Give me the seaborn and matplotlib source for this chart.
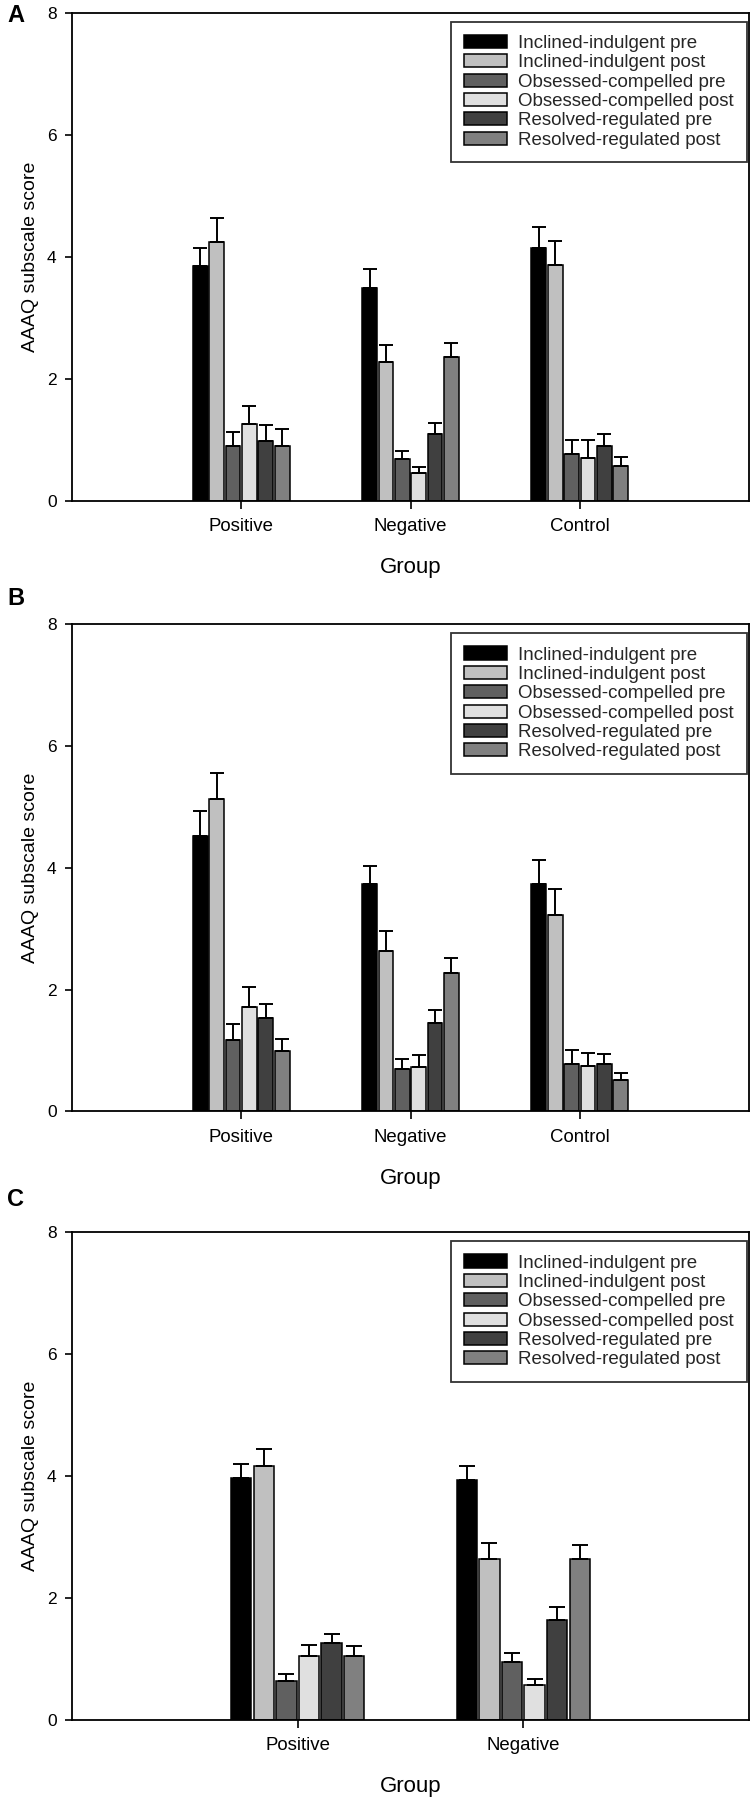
import numpy as np
import pandas as pd
import matplotlib
matplotlib.use("Agg")
import matplotlib.pyplot as plt
import seaborn as sns
from matplotlib.patches import Patch
from matplotlib.container import BarContainer

series = ["Inclined-indulgent pre", "Inclined-indulgent post",
          "Obsessed-compelled pre", "Obsessed-compelled post",
          "Resolved-regulated pre", "Resolved-regulated post"]
colors = ["#000000", "#c0c0c0", "#606060", "#e0e0e0", "#404040", "#808080"]

groups_ab = ["Positive", "Negative", "Control"]
groups_c = ["Positive", "Negative"]

# Panel A: means and standard errors (one list per group, in series order)
a_positive = [3.84, 4.24, 0.89, 1.26, 0.98, 0.89]
a_positive_se = [0.31, 0.40, 0.24, 0.30, 0.26, 0.29]
a_negative = [3.49, 2.28, 0.68, 0.45, 1.10, 2.35]
a_negative_se = [0.31, 0.27, 0.13, 0.11, 0.18, 0.24]
a_control = [4.15, 3.87, 0.76, 0.70, 0.89, 0.57]
a_control_se = [0.33, 0.38, 0.23, 0.29, 0.21, 0.14]

# Panel B
b_positive = [4.52, 5.13, 1.17, 1.71, 1.53, 0.99]
b_positive_se = [0.41, 0.42, 0.26, 0.34, 0.24, 0.20]
b_negative = [3.73, 2.63, 0.70, 0.73, 1.45, 2.27]
b_negative_se = [0.30, 0.33, 0.16, 0.19, 0.21, 0.25]
b_control = [3.73, 3.23, 0.77, 0.74, 0.77, 0.51]
b_control_se = [0.39, 0.42, 0.23, 0.22, 0.17, 0.12]

# Panel C
c_positive = [3.96, 4.16, 0.64, 1.04, 1.25, 1.05]
c_positive_se = [0.24, 0.28, 0.11, 0.19, 0.16, 0.15]
c_negative = [3.93, 2.64, 0.95, 0.57, 1.63, 2.64]
c_negative_se = [0.24, 0.25, 0.14, 0.10, 0.21, 0.22]

yticks = [0, 2, 4, 6, 8]

sns.set_theme(style="white")
plt.rcParams["font.family"] = ["Liberation Sans", "DejaVu Sans"]

W, H = 756, 1807
fig = plt.figure(figsize=(W / 100, H / 100), dpi=100)


def make_df(groups, means, ses):
    rows = []
    for g, m, s in zip(groups, means, ses):
        for name, v, e in zip(series, m, s):
            rows.append({"Group": g, "Series": name, "Score": v, "SE": e})
    return pd.DataFrame(rows)


def panel(top_px, bottom_px, groups, means, ses, width, capsize):
    left_px, right_px = 72, 749
    ax = fig.add_axes([left_px / W, 1 - bottom_px / H,
                       (right_px - left_px) / W, (bottom_px - top_px) / H])
    df = make_df(groups, means, ses)
    sns.barplot(data=df, x="Group", y="Score", hue="Series", order=groups,
                hue_order=series, palette=colors, errorbar=None, width=width,
                gap=0.1, edgecolor="black", linewidth=1.1, legend=False,
                saturation=1, ax=ax)
    se_lookup = {(r.Group, r.Series): r.SE for r in df.itertuples()}
    bar_conts = [c for c in ax.containers if isinstance(c, BarContainer)]
    for hi, cont in enumerate(bar_conts):
        for patch in list(cont.patches):
            cx = patch.get_x() + patch.get_width() / 2
            gi = int(round(cx))
            h = patch.get_height()
            e = se_lookup[(groups[gi], series[hi])]
            ax.errorbar([cx], [h], yerr=[[0], [e]], fmt="none", ecolor="black",
                        elinewidth=1.4, capsize=capsize, capthick=1.4, zorder=1)
    ax.set_xlim(-1, len(groups))
    ax.set_ylim(0, 8)
    ax.set_yticks(yticks)
    ax.set_yticklabels([str(t) for t in yticks])
    for sp in ax.spines.values():
        sp.set_visible(True)
        sp.set_color("black")
        sp.set_linewidth(1.3)
    ax.tick_params(axis="y", direction="out", length=5, width=1.2, pad=6,
                   labelsize=12.5, left=True, colors="black")
    ax.tick_params(axis="x", direction="out", length=5.5, width=1.2, pad=7,
                   labelsize=13.4, bottom=True, colors="black")
    ax_h = bottom_px - top_px
    ax.set_xlabel("Group", fontsize=16, color="black")
    ax.xaxis.set_label_coords(0.5, -67 / ax_h)
    ax.xaxis.label.set_va("center")
    ax.set_ylabel("AAAQ subscale score", fontsize=14, color="black")
    ax.yaxis.set_label_coords((31 - left_px) / (right_px - left_px), 0.5)
    ax.yaxis.label.set_va("center")
    handles = [Patch(facecolor=c, edgecolor="black", linewidth=1.1) for c in colors]
    leg = ax.legend(handles, series, loc="upper right",
                    bbox_to_anchor=(0.997, 1 - 9 / ax_h), borderaxespad=0,
                    fontsize=13.5, frameon=True, fancybox=False, shadow=False,
                    handlelength=2.3, handleheight=0.7, handletextpad=0.6,
                    labelspacing=0.12, borderpad=0.7)
    leg.get_frame().set_edgecolor("black")
    leg.get_frame().set_linewidth(1.3)
    return ax


panel(12.7, 500.7, groups_ab, [a_positive, a_negative, a_control],
      [a_positive_se, a_negative_se, a_control_se], 0.58, 5.3)
panel(624.3, 1111.3, groups_ab, [b_positive, b_negative, b_control],
      [b_positive_se, b_negative_se, b_control_se], 0.58, 5.3)
panel(1232.3, 1719.5, groups_c, [c_positive, c_negative],
      [c_positive_se, c_negative_se], 0.6, 5.8)

for letter, ypx in [("A", 15), ("B", 598.7), ("C", 1200)]:
    fig.text(15.7 / W, 1 - ypx / H, letter, fontsize=17, fontweight="bold",
             ha="center", va="center", color="black")

fig.savefig("out.png", dpi=100, facecolor="white")
